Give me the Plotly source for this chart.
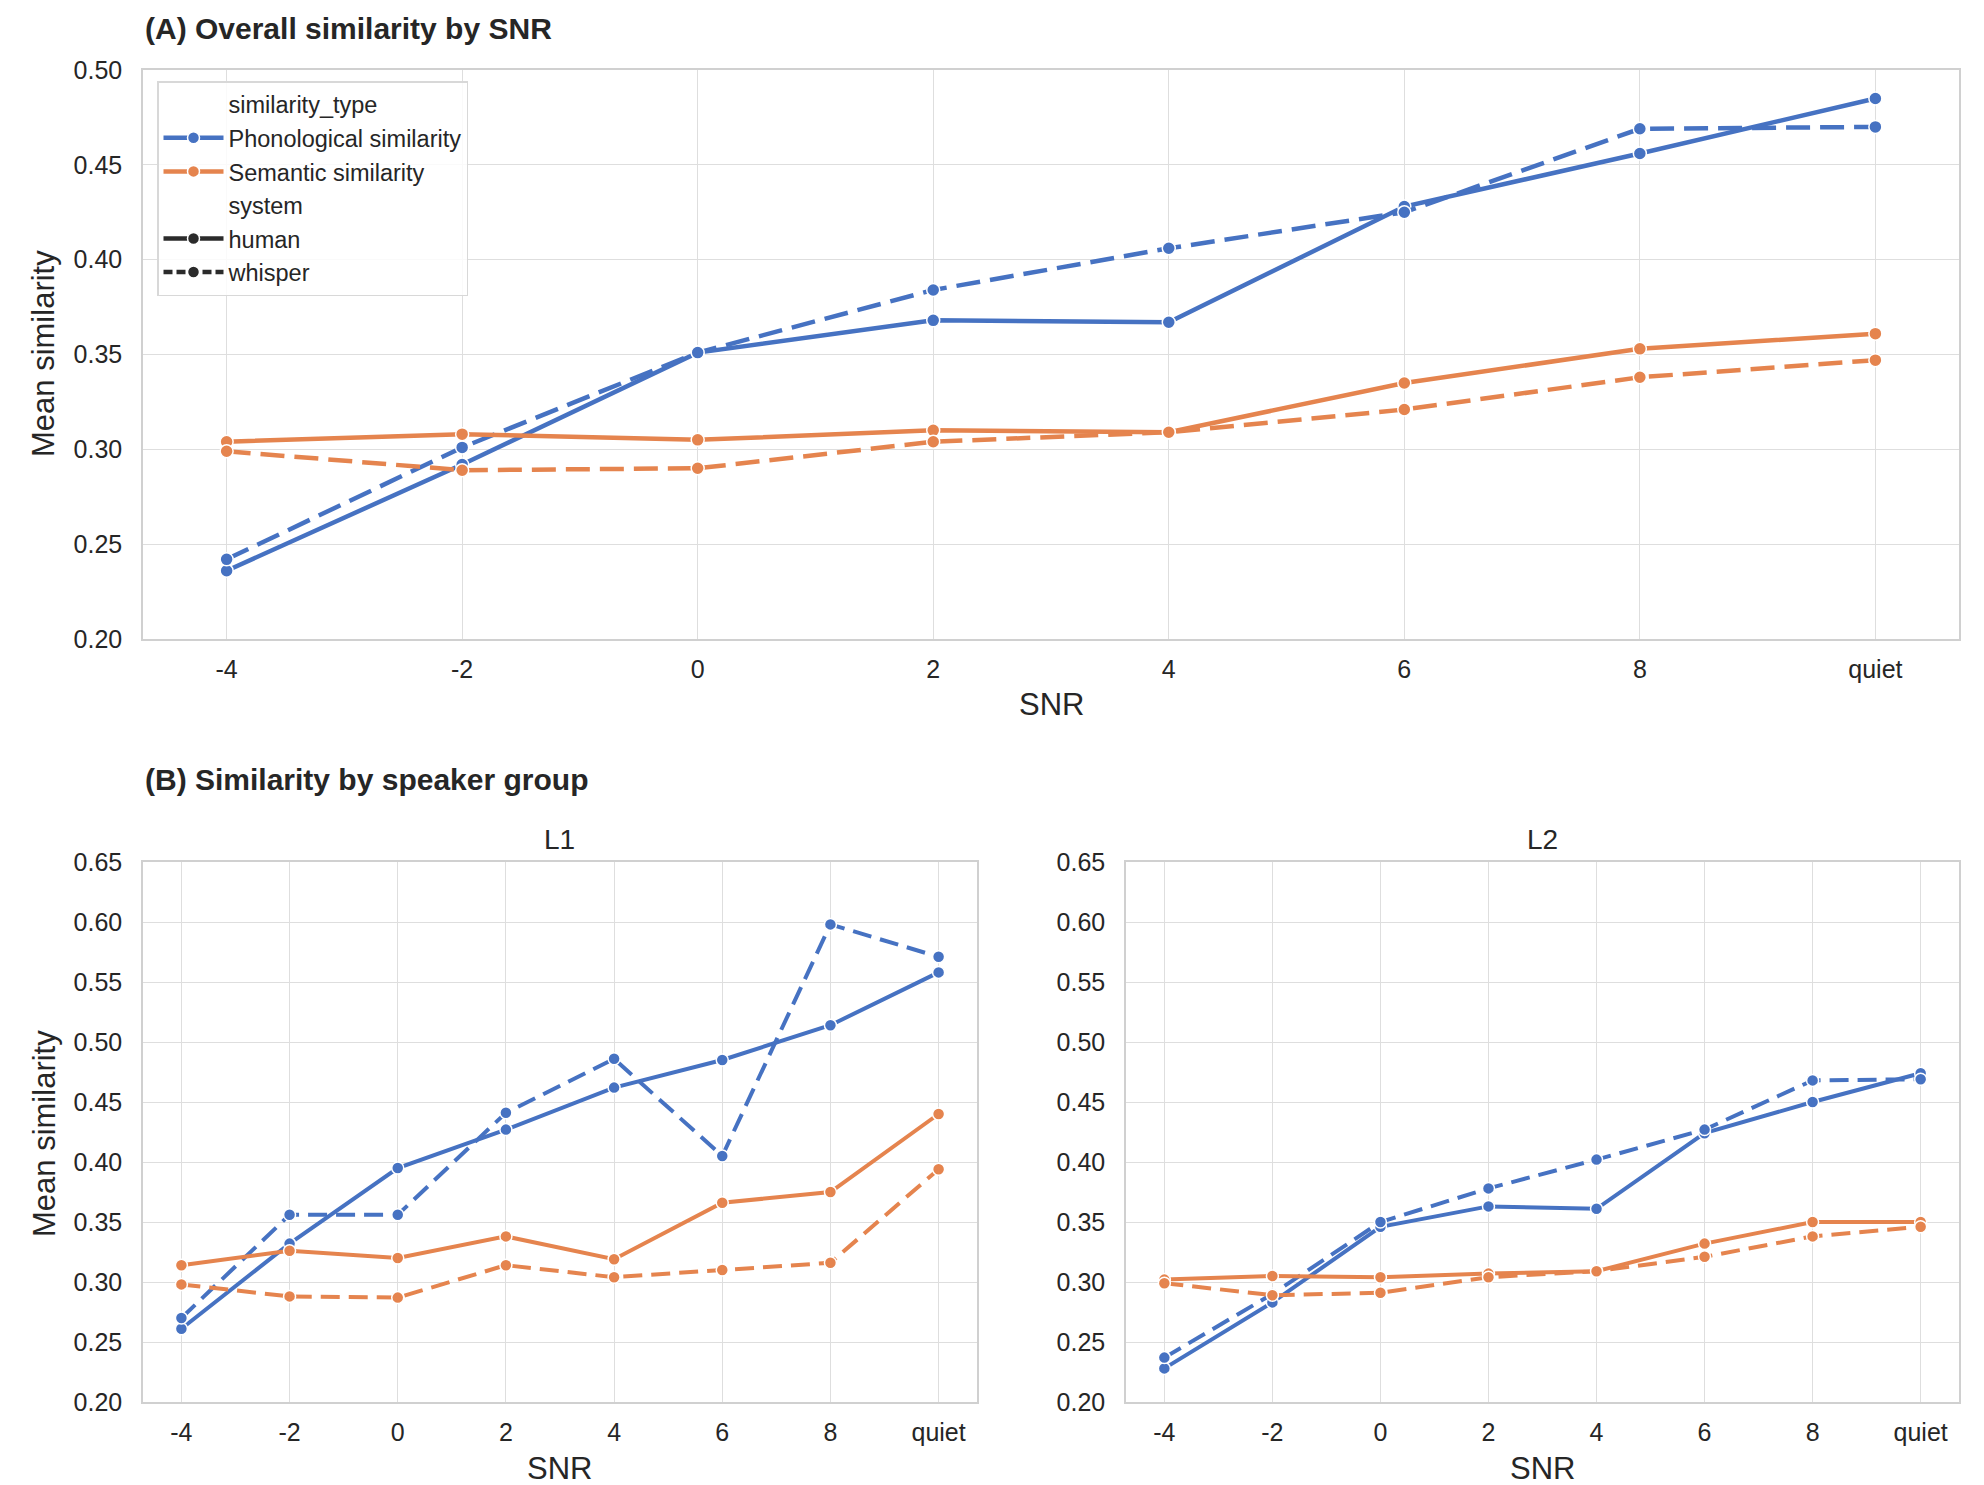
import plotly.graph_objects as go

snr = ["-4", "-2", "0", "2", "4", "6", "8", "quiet"]
y_ticks_a = [0.20, 0.25, 0.30, 0.35, 0.40, 0.45, 0.50]
y_ticks_b = [0.20, 0.25, 0.30, 0.35, 0.40, 0.45, 0.50, 0.55, 0.60, 0.65]

# Panel A: overall
A_phon_human = [0.236, 0.292, 0.351, 0.368, 0.367, 0.428, 0.456, 0.485]
A_phon_whisper = [0.242, 0.301, 0.351, 0.384, 0.406, 0.425, 0.469, 0.470]
A_sem_human = [0.304, 0.308, 0.305, 0.310, 0.309, 0.335, 0.353, 0.361]
A_sem_whisper = [0.299, 0.289, 0.290, 0.304, 0.309, 0.321, 0.338, 0.347]

# Panel B: L1
L1_phon_human = [0.261, 0.332, 0.395, 0.427, 0.462, 0.485, 0.514, 0.558]
L1_phon_whisper = [0.270, 0.356, 0.356, 0.441, 0.486, 0.405, 0.598, 0.571]
L1_sem_human = [0.314, 0.326, 0.320, 0.338, 0.319, 0.366, 0.375, 0.440]
L1_sem_whisper = [0.298, 0.288, 0.287, 0.314, 0.304, 0.310, 0.316, 0.394]

# Panel B: L2
L2_phon_human = [0.228, 0.283, 0.346, 0.363, 0.361, 0.424, 0.450, 0.474]
L2_phon_whisper = [0.237, 0.290, 0.350, 0.378, 0.402, 0.427, 0.468, 0.469]
L2_sem_human = [0.302, 0.305, 0.304, 0.307, 0.309, 0.332, 0.350, 0.350]
L2_sem_whisper = [0.299, 0.289, 0.291, 0.304, 0.309, 0.321, 0.338, 0.346]

BLUE = "#4672C2"
ORANGE = "#E5844E"
TXT = "#262626"
FONT = "Liberation Sans, Arial, sans-serif"

fig = go.Figure()

def add(y, color, dashed, xa, ya, lw, ms, dash_pat):
    fig.add_trace(go.Scatter(
        x=snr, y=y, mode="lines+markers", xaxis=xa, yaxis=ya, showlegend=False,
        line=dict(color=color, width=lw, dash=dash_pat if dashed else "solid"),
        marker=dict(size=ms, color=color, line=dict(color="white", width=1.5)),
    ))

for (ph, pw, sh, sw, xa, ya, lw, ms, dp) in [
    (A_phon_human, A_phon_whisper, A_sem_human, A_sem_whisper, "x", "y", 4.5, 13, "24px,10px"),
    (L1_phon_human, L1_phon_whisper, L1_sem_human, L1_sem_whisper, "x2", "y2", 4, 12, "19px,9px"),
    (L2_phon_human, L2_phon_whisper, L2_sem_human, L2_sem_whisper, "x3", "y3", 4, 12, "19px,9px"),
]:
    add(ph, BLUE, False, xa, ya, lw, ms, dp)
    add(pw, BLUE, True, xa, ya, lw, ms, dp)
    add(sh, ORANGE, False, xa, ya, lw, ms, dp)
    add(sw, ORANGE, True, xa, ya, lw, ms, dp)

# Legend entries
def leg_header(name, g):
    fig.add_trace(go.Scatter(x=[None], y=[None], mode="markers", name=name, legendgroup=g,
                             marker=dict(size=1, color="rgba(0,0,0,0)"), xaxis="x", yaxis="y"))

def leg_item(name, color, dash, g):
    fig.add_trace(go.Scatter(x=[None], y=[None], mode="lines+markers", name=name, legendgroup=g,
                             line=dict(color=color, width=4.5, dash=dash),
                             marker=dict(size=12, color=color, line=dict(color="white", width=1.5)),
                             xaxis="x", yaxis="y"))

leg_header("similarity_type", "g1")
leg_item("Phonological similarity", BLUE, "solid", "g2")
leg_item("Semantic similarity", ORANGE, "solid", "g3")
leg_header("system", "g4")
leg_item("human", "#2b2b2b", "solid", "g5")
leg_item("whisper", "#2b2b2b", "9px,4px", "g6")

W, H = 1984, 1485
def px(x): return x / W
def py(y): return 1 - y / H

axis_common = dict(
    automargin=False,
    showgrid=True, gridcolor="#dedede", gridwidth=1.2,
    showline=True, linecolor="#d0d0d0", linewidth=1.5, mirror=True,
    zeroline=False, ticks="outside", tickcolor="rgba(0,0,0,0)",
    tickfont=dict(family=FONT, size=25, color=TXT),
)

xcat = dict(type="category", categoryorder="array", categoryarray=snr, range=[-0.355, 7.355], ticklen=7)
yl = dict(ticklen=14)

fig.update_layout(
    width=W, height=H, margin=dict(l=0, r=0, t=0, b=0, autoexpand=False),
    paper_bgcolor="white", plot_bgcolor="white",
    font=dict(family=FONT, color=TXT),
    xaxis=dict(**axis_common, **xcat, domain=[px(143), px(1959)], anchor="y"),
    yaxis=dict(**axis_common, **yl, domain=[py(639), py(70)], range=[0.20, 0.50],
               tickvals=y_ticks_a, ticktext=[f"{v:.2f}" for v in y_ticks_a], anchor="x"),
    xaxis2=dict(**axis_common, **xcat, domain=[px(143), px(977)], anchor="y2"),
    yaxis2=dict(**axis_common, **yl, domain=[py(1402), py(862)], range=[0.20, 0.65],
                tickvals=y_ticks_b, ticktext=[f"{v:.2f}" for v in y_ticks_b], anchor="x2"),
    xaxis3=dict(**axis_common, **xcat, domain=[px(1126), px(1959)], anchor="y3"),
    yaxis3=dict(**axis_common, **yl, domain=[py(1402), py(862)], range=[0.20, 0.65],
                tickvals=y_ticks_b, ticktext=[f"{v:.2f}" for v in y_ticks_b], anchor="x3"),
    legend=dict(x=px(157), y=py(81), xanchor="left", yanchor="top",
                bgcolor="rgba(255,255,255,0.85)", bordercolor="#d8d8d8", borderwidth=1.5,
                font=dict(family=FONT, size=23.5, color=TXT), itemwidth=60,
                tracegroupgap=0, groupclick="toggleitem"),
)

ann = []
def text(x, y, s, size, bold=False, xanchor="center", angle=0):
    ann.append(dict(x=px(x), y=py(y), xref="paper", yref="paper", text=(f"<b>{s}</b>" if bold else s),
                    showarrow=False, xanchor=xanchor, yanchor="middle", textangle=angle,
                    font=dict(family=FONT, size=size, color=TXT)))

text(143, 29, "(A) Overall similarity by SNR", 30, bold=True, xanchor="left")
text(1051, 704, "SNR", 31)
text(44, 354, "Mean similarity", 31, angle=-90)
text(143, 779, "(B) Similarity by speaker group", 30, bold=True, xanchor="left")
text(559, 839, "L1", 28)
text(1542, 839, "L2", 28)
text(559, 1468, "SNR", 31)
text(1542, 1468, "SNR", 31)
text(44, 1134, "Mean similarity", 31, angle=-90)
fig.update_layout(annotations=ann)

fig.write_html("out.html")
